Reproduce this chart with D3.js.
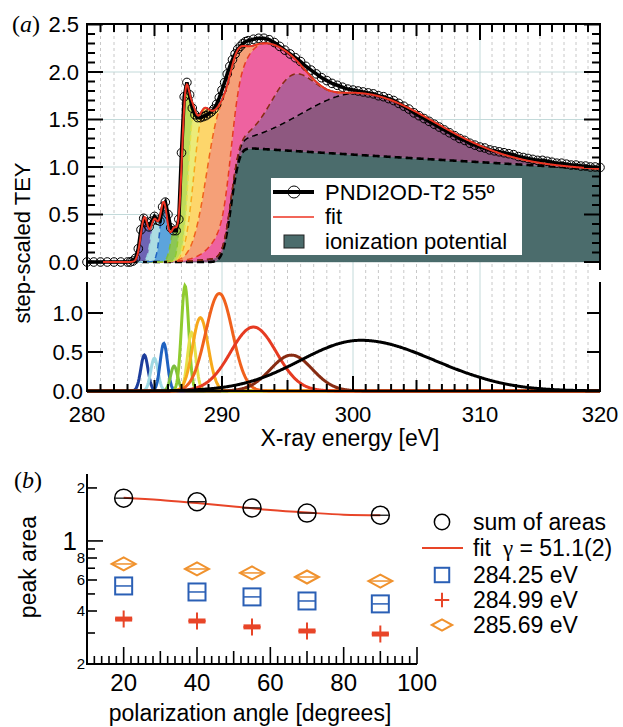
<!DOCTYPE html>
<html>
<head>
<meta charset="utf-8">
<script src="https://cdn.jsdelivr.net/npm/d3@7"></script>
<style>
  body { margin: 0; background: #fff; }
  svg text { font-family: "Liberation Sans", Arial, sans-serif; fill: #000; }
</style>
</head>
<body>
<svg id="chart" width="623" height="727"></svg>
<script>
// ---------- panel (a): peak fit ----------
// gaussian resonances, low to high energy
var peakCenter    = [284.25, 284.99, 285.69, 286.45, 287.26, 287.75, 288.4, 289.8, 292.4, 295.3, 300.6];
var peakHeight    = [0.46, 0.42, 0.61, 0.32, 1.35, 0.75, 0.94, 1.25, 0.82, 0.46, 0.65];
var peakWidthLow  = [0.27, 0.27, 0.27, 0.26, 0.27, 0.30, 0.58, 1.0, 1.75, 1.6, 4.6];
var peakWidthHigh = [0.27, 0.27, 0.27, 0.26, 0.27, 0.30, 0.58, 1.0, 1.75, 1.6, 5.8];
var peakLine = ["#1d3d9c", "#9fd9e3", "#1f62c0", "#7cbd3e", "#8fcb2f", "#e6e04a", "#f7a91b", "#f0611c", "#e63b22", "#872b12", "#000000"];
var peakFill = ["#6e64b4", "#acdce2", "#5ca4dc", "#8cc655", "#bedc5a", "#eceb78", "#fdd66b", "#f5a078", "#ee62a0", "#b35f98", "#8e5880"];

// ionization potential step
var stepCenter = 290.7, stepWidth = 0.7, stepHeight = 1.21, stepDecay = 137;
var stepFill = "#4b6c6c";

// measured spectrum, three scan regions (start, step, values)
var scanStart = [280, 283.2, 292.4];
var scanStep = [0.5, 0.2, 0.4];
var tey1 = [0, 0, 0, 0, 0, 0, 0];
var tey2 = [0.00, 0.01, 0.04, 0.14, 0.34, 0.46, 0.42, 0.37, 0.43, 0.48,
            0.44, 0.43, 0.58, 0.63, 0.50, 0.36, 0.33, 0.33, 0.45, 1.15,
            1.74, 1.89, 1.76, 1.62, 1.55, 1.52, 1.52, 1.53, 1.54, 1.56,
            1.58, 1.61, 1.66, 1.73, 1.81, 1.89, 1.98, 2.06, 2.13, 2.19,
            2.24, 2.27, 2.30, 2.32, 2.33];
var tey3 = [2.345, 2.355, 2.355, 2.34, 2.31, 2.27, 2.23, 2.19, 2.15, 2.11,
            2.06, 2.02, 1.98, 1.94, 1.91, 1.88, 1.86, 1.84, 1.82, 1.81,
            1.80, 1.79, 1.78, 1.77, 1.75, 1.74, 1.72, 1.70, 1.67, 1.64,
            1.61, 1.57, 1.54, 1.51, 1.48, 1.45, 1.42, 1.39, 1.36, 1.33,
            1.30, 1.28, 1.25, 1.23, 1.21, 1.20, 1.18, 1.17, 1.16, 1.15,
            1.14, 1.13, 1.11, 1.10, 1.09, 1.08, 1.07, 1.07, 1.06, 1.05,
            1.04, 1.04, 1.03, 1.02, 1.02, 1.01, 1.01, 1.00, 1.00, 0.995];

var xTicksA = [280, 290, 300, 310, 320];
var yTicksTop = [0, 0.5, 1, 1.5, 2, 2.5];
var yTicksLow = [0, 0.5, 1];

// ---------- panel (b): peak areas vs angle ----------
var angles = [20, 40, 55, 70, 90];
var sumAreas = [1.75, 1.67, 1.54, 1.44, 1.40];
var fitAngles = [20, 30, 40, 50, 60, 70, 80, 90];
var fitAreas = [1.76, 1.71, 1.64, 1.57, 1.50, 1.45, 1.41, 1.40];
var area28425 = [0.555, 0.513, 0.481, 0.456, 0.439];
var area28499 = [0.360, 0.351, 0.325, 0.308, 0.296];
var area28569 = [0.740, 0.693, 0.658, 0.624, 0.592];
var xTicksB = [20, 40, 60, 80, 100];
var yTicksB = [0.2, 0.4, 0.6, 0.8, 1, 2];
var yTickNamesB = ["2", "4", "6", "8", "1", "2"];

var svg = d3.select("#chart");

function erf(x) {
  var s = x < 0 ? -1 : 1
  x = Math.abs(x)
  var t = 1 / (1 + 0.3275911 * x)
  var y = 1 - ((((1.061405429 * t - 1.453152027) * t + 1.421413741) * t - 0.284496736) * t + 0.254829592) * t * Math.exp(-x * x)
  return s * y
}
function stepAt(e) {
  return stepHeight * 0.5 * (1 + erf((e - stepCenter) / stepWidth)) * Math.exp(-(e - stepCenter) / stepDecay)
}
function gauss(k, e) {
  var d = e - peakCenter[k]
  var w = d < 0 ? peakWidthLow[k] : peakWidthHigh[k]
  return peakHeight[k] * Math.exp(-d * d / (2 * w * w))
}

// scales (the original panel is slightly compressed toward high energy)
var xA = d3.scaleLinear().domain([280, 290, 300, 310, 320]).range([87, 222, 353, 480, 600]);
var yTop = d3.scaleLinear().domain([0, 2.5]).range([262, 24.5]);
var yLow = d3.scaleLinear().domain([0, 1.4]).range([391, 281.8]);

var eGrid = d3.range(801).map(function(i) { return 280 + i * 0.05 });
var eAll = d3.range(280, 321);

// grid
svg.append("g").selectAll("line").data(eAll.filter(function(e) { return e > 280 && e < 320 })).join("line")
  .attr("x1", function(d) { return xA(d) }).attr("x2", function(d) { return xA(d) })
  .attr("y1", 24).attr("y2", 391)
  .attr("stroke", function(d) { return d % 10 === 0 ? "#c3dada" : "#c8c8c8" })
  .attr("stroke-width", 1)
  .attr("stroke-dasharray", function(d) { return d % 10 === 0 ? null : "3,3" });
svg.append("g").selectAll("line").data([0.5, 1, 1.5, 2]).join("line")
  .attr("x1", 87).attr("x2", 600)
  .attr("y1", function(d) { return yTop(d) }).attr("y2", function(d) { return yTop(d) })
  .attr("stroke", "#c3dada").attr("stroke-width", 1);

// stacked layers: step, then peaks from high to low energy
var layers = [];
var prev = eGrid.map(function() { return 0 });
var cur = eGrid.map(stepAt);
layers.push({ y0: prev, y1: cur, fill: stepFill, line: "#000", lw: 2.6, dash: "7,4" });
for (var k = peakCenter.length - 1; k >= 0; k--) {
  prev = cur
  cur = prev.map(function(v, j) { return v + gauss(k, eGrid[j]) })
  layers.push({ y0: prev, y1: cur, fill: peakFill[k], line: peakLine[k], lw: 1.5, dash: "6,4" })
}
var fitTop = cur;

var area = d3.area()
  .x(function(d, i) { return xA(eGrid[i]) });
var gA = svg.append("g");
layers.forEach(function(L) {
  gA.append("path")
    .attr("d", area.y0(function(d, i) { return yTop(L.y0[i]) }).y1(function(d, i) { return yTop(L.y1[i]) })(eGrid))
    .attr("fill", L.fill).attr("stroke", L.fill).attr("stroke-width", 0.4)
});
layers.forEach(function(L) {
  gA.append("path")
    .attr("d", d3.line().x(function(d, i) { return xA(eGrid[i]) }).y(function(d) { return yTop(d) })(L.y1))
    .attr("fill", "none").attr("stroke", L.line).attr("stroke-width", L.lw).attr("stroke-dasharray", L.dash)
});

// measured spectrum
var spec = [];
[tey1, tey2, tey3].forEach(function(vals, s) {
  vals.forEach(function(v, i) { spec.push({ e: scanStart[s] + scanStep[s] * i, v: v }) })
});
gA.append("path")
  .attr("d", d3.line().x(function(d) { return xA(d.e) }).y(function(d) { return yTop(d.v) })(spec))
  .attr("fill", "none").attr("stroke", "#000").attr("stroke-width", 3.6);
gA.append("g").selectAll("circle").data(spec).join("circle")
  .attr("cx", function(d) { return xA(d.e) }).attr("cy", function(d) { return yTop(d.v) })
  .attr("r", 4.3).attr("fill", "none").attr("stroke", "#000").attr("stroke-width", 1);
gA.append("path")
  .attr("d", d3.line().x(function(d, i) { return xA(eGrid[i]) }).y(function(d) { return yTop(d) })(fitTop))
  .attr("fill", "none").attr("stroke", "#ee3322").attr("stroke-width", 2);

// lower panel: individual peaks
var gL = svg.append("g");
peakCenter.forEach(function(c, k) {
  gL.append("path")
    .attr("d", d3.line().x(function(e) { return xA(e) }).y(function(e) { return yLow(gauss(k, e)) })(eGrid))
    .attr("fill", "none").attr("stroke", peakLine[k]).attr("stroke-width", 3)
});

// axes panel (a)
var ax = svg.append("g").attr("stroke", "#000").attr("fill", "none");
ax.append("path").attr("d", "M87,270V24H600V270").attr("stroke-width", 2);
ax.append("path").attr("d", "M87,282V391H600V282").attr("stroke-width", 2);
function eLen(e) { return e % 10 === 0 ? 16 : (e % 5 === 0 ? 12 : 8) }
ax.selectAll(".tt").data(eAll).join("line")
  .attr("x1", function(d) { return xA(d) }).attr("x2", function(d) { return xA(d) })
  .attr("y1", 24).attr("y2", function(d) { return 24 + eLen(d) }).attr("stroke-width", 2);
ax.selectAll(".tb").data(eAll).join("line")
  .attr("x1", function(d) { return xA(d) }).attr("x2", function(d) { return xA(d) })
  .attr("y1", 391).attr("y2", function(d) { return 391 - eLen(d) + 1 }).attr("stroke-width", 2);
var yMinor = d3.range(26);
ax.selectAll(".tl").data(yMinor).join("line")
  .attr("x1", 87).attr("x2", function(d) { return 87 + (d % 5 === 0 ? 16 : 8) })
  .attr("y1", function(d) { return yTop(d / 10) }).attr("y2", function(d) { return yTop(d / 10) }).attr("stroke-width", 2);
ax.selectAll(".tr").data(yMinor).join("line")
  .attr("x1", 600).attr("x2", function(d) { return 600 - (d % 5 === 0 ? 16 : 8) })
  .attr("y1", function(d) { return yTop(d / 10) }).attr("y2", function(d) { return yTop(d / 10) }).attr("stroke-width", 2);
ax.selectAll(".ll").data(yTicksLow).join("line")
  .attr("x1", 87).attr("x2", 103)
  .attr("y1", function(d) { return yLow(d) }).attr("y2", function(d) { return yLow(d) }).attr("stroke-width", 2);
ax.selectAll(".lr").data(yTicksLow).join("line")
  .attr("x1", 600).attr("x2", 587)
  .attr("y1", function(d) { return yLow(d) }).attr("y2", function(d) { return yLow(d) }).attr("stroke-width", 2);

var fmt = d3.format(".1f");
svg.append("g").selectAll("text").data(yTicksTop).join("text")
  .attr("x", 79).attr("y", function(d) { return yTop(d) }).attr("dy", "0.36em")
  .attr("text-anchor", "end").attr("font-size", 22).text(fmt);
svg.append("g").selectAll("text").data(yTicksLow).join("text")
  .attr("x", 83).attr("y", function(d) { return yLow(d) }).attr("dy", "0.36em")
  .attr("text-anchor", "end").attr("font-size", 22).text(fmt);
svg.append("g").selectAll("text").data(xTicksA).join("text")
  .attr("x", function(d) { return xA(d) }).attr("y", 422)
  .attr("text-anchor", "middle").attr("font-size", 22).text(function(d) { return d });
svg.append("text").attr("x", 350).attr("y", 446).attr("text-anchor", "middle").attr("font-size", 23)
  .text("X-ray energy [eV]");
svg.append("text").attr("transform", "translate(30,243) rotate(-90)").attr("text-anchor", "middle")
  .attr("font-size", 22).text("step-scaled TEY");
var la = svg.append("text").attr("x", 12).attr("y", 32).attr("font-size", 24)
  .style("font-family", "'Liberation Serif', serif");
la.append("tspan").text("(");
la.append("tspan").attr("font-style", "italic").text("a");
la.append("tspan").text(")");

// legend (a)
var lg = svg.append("g");
lg.append("rect").attr("x", 271).attr("y", 178).attr("width", 251).attr("height", 77).attr("fill", "#fff");
lg.append("line").attr("x1", 273).attr("x2", 314).attr("y1", 192).attr("y2", 192).attr("stroke", "#000").attr("stroke-width", 4);
lg.append("circle").attr("cx", 294).attr("cy", 192).attr("r", 6).attr("fill", "none").attr("stroke", "#000").attr("stroke-width", 1);
lg.append("line").attr("x1", 273).attr("x2", 314).attr("y1", 217).attr("y2", 217).attr("stroke", "#ee3322").attr("stroke-width", 1.5);
lg.append("rect").attr("x", 284).attr("y", 235).attr("width", 20).attr("height", 13).attr("fill", stepFill).attr("stroke", "#222");
lg.selectAll("text").data(["PNDI2OD-T2 55º", "fit", "ionization potential"]).join("text")
  .attr("x", 325).attr("y", function(d, i) { return 192 + 24.5 * i }).attr("dy", "0.36em")
  .attr("font-size", 22).text(function(d) { return d });

// ---------- panel (b) ----------
var xB = d3.scaleLinear().domain([10, 100]).range([87, 417]);
var yB = d3.scaleLog().domain([0.2, 2.4]).range([664, 474]);
var bx = svg.append("g").attr("stroke", "#000");
bx.append("path").attr("d", "M87,474V664H417").attr("fill", "none").attr("stroke-width", 2);
bx.selectAll(".bt").data(d3.range(10, 101, 2)).join("line")
  .attr("x1", function(d) { return xB(d) }).attr("x2", function(d) { return xB(d) })
  .attr("y1", 664).attr("y2", function(d) { return 664 - (d % 20 === 0 ? 17 : (d % 10 === 0 ? 13 : 8)) })
  .attr("stroke-width", 1.6);
bx.selectAll(".bl").data([0.2, 0.3, 0.4, 0.5, 0.6, 0.7, 0.8, 0.9, 1, 2]).join("line")
  .attr("x1", 87).attr("x2", function(d) { return 87 + (d === 1 ? 16 : (yTicksB.indexOf(d) >= 0 ? 10 : 8)) })
  .attr("y1", function(d) { return yB(d) }).attr("y2", function(d) { return yB(d) })
  .attr("stroke-width", 1.6);
svg.append("g").selectAll("text").data(xTicksB).join("text")
  .attr("x", function(d) { return xB(d) }).attr("y", 691)
  .attr("text-anchor", "middle").attr("font-size", 24).text(function(d) { return d });
svg.append("g").selectAll("text").data(yTicksB).join("text")
  .attr("x", function(d) { return d === 1 ? 77 : 85 }).attr("y", function(d) { return yB(d) }).attr("dy", "0.36em")
  .attr("text-anchor", "end").attr("font-size", function(d) { return d === 1 ? 26 : 15 })
  .text(function(d, i) { return yTickNamesB[i] });
svg.append("text").attr("x", 250).attr("y", 721).attr("text-anchor", "middle").attr("font-size", 23)
  .text("polarization angle [degrees]");
svg.append("text").attr("transform", "translate(36,567) rotate(-90)").attr("text-anchor", "middle")
  .attr("font-size", 23).text("peak area");
var lb = svg.append("text").attr("x", 14).attr("y", 488).attr("font-size", 24)
  .style("font-family", "'Liberation Serif', serif");
lb.append("tspan").text("(");
lb.append("tspan").attr("font-style", "italic").text("b");
lb.append("tspan").text(")");

var blue = "#2a5fb5", red = "#e84528", orange = "#f0922e";
var gB = svg.append("g").attr("fill", "none");
gB.append("path")
  .attr("d", d3.line().curve(d3.curveMonotoneX).x(function(d) { return xB(d) })
    .y(function(d, i) { return yB(fitAreas[i]) })(fitAngles))
  .attr("stroke", red).attr("stroke-width", 2);

function markCircle(g, x, y, s) {
  g.append("circle").attr("cx", x).attr("cy", y).attr("r", 9 * s).attr("stroke", "#000").attr("stroke-width", 1.5);
}
function markSquare(g, x, y, s) {
  var h = 8.5 * s
  g.append("rect").attr("x", x - h).attr("y", y - h).attr("width", 2 * h).attr("height", 2 * h).attr("stroke", blue).attr("stroke-width", 2);
}
function markPlus(g, x, y, s) {
  var h = 8.5 * s
  g.append("path").attr("d", "M" + (x - h) + "," + y + "H" + (x + h) + "M" + x + "," + (y - h) + "V" + (y + h))
    .attr("stroke", red).attr("stroke-width", 2);
}
function markDiamond(g, x, y, s) {
  var w = 12 * s, h = 6.5 * s
  g.append("path").attr("d", "M" + (x - w) + "," + y + "L" + x + "," + (y - h) + "L" + (x + w) + "," + y + "L" + x + "," + (y + h) + "Z")
    .attr("stroke", orange).attr("stroke-width", 2);
}
angles.forEach(function(a, i) {
  var x = xB(a)
  markCircle(gB, x, yB(sumAreas[i]), 1)
  gB.append("line").attr("x1", x - 8.5).attr("x2", x + 8.5).attr("y1", yB(sumAreas[i])).attr("y2", yB(sumAreas[i]))
    .attr("stroke", "#000").attr("stroke-width", 1.2)
  markSquare(gB, x, yB(area28425[i]), 1)
  gB.append("line").attr("x1", x - 8).attr("x2", x + 8).attr("y1", yB(area28425[i])).attr("y2", yB(area28425[i]))
    .attr("stroke", blue).attr("stroke-width", 1.5)
  markPlus(gB, x, yB(area28499[i]), 1)
  gB.append("line").attr("x1", x - 8.5).attr("x2", x + 8.5).attr("y1", yB(area28499[i])).attr("y2", yB(area28499[i]))
    .attr("stroke", red).attr("stroke-width", 5)
  markDiamond(gB, x, yB(area28569[i]), 1)
  gB.append("line").attr("x1", x - 11).attr("x2", x + 11).attr("y1", yB(area28569[i])).attr("y2", yB(area28569[i]))
    .attr("stroke", orange).attr("stroke-width", 1.5)
});

// legend (b)
var lgB = svg.append("g").attr("fill", "none");
markCircle(lgB, 442, 522, 0.85);
lgB.append("line").attr("x1", 422).attr("x2", 463).attr("y1", 548).attr("y2", 548).attr("stroke", red).attr("stroke-width", 2);
markSquare(lgB, 442, 575, 0.85);
markPlus(lgB, 442, 600, 0.85);
markDiamond(lgB, 442, 625, 0.85);
svg.append("text").attr("x", 473).attr("y", 522).attr("dy", "0.36em").attr("font-size", 23).text("sum of areas");
var ft = svg.append("text").attr("x", 473).attr("y", 548).attr("dy", "0.36em").attr("font-size", 23);
ft.append("tspan").text("fit");
ft.append("tspan").attr("dx", 12).style("font-family", "'Liberation Serif', serif").text("γ");
ft.append("tspan").text(" = 51.1(2)");
svg.append("g").selectAll("text").data(["284.25 eV", "284.99 eV", "285.69 eV"]).join("text")
  .attr("x", 473).attr("y", function(d, i) { return 575 + 25 * i }).attr("dy", "0.36em")
  .attr("font-size", 23).text(function(d) { return d });
</script>
</body>
</html>
